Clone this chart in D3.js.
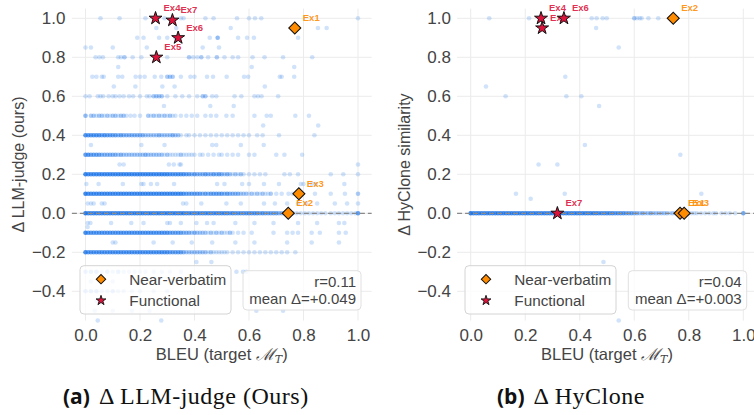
<!DOCTYPE html>
<html><head><meta charset="utf-8">
<script src="https://cdn.jsdelivr.net/npm/d3@7"></script>
<style>body{margin:0;background:#fff}svg{display:block}</style>
</head><body>
<svg id="chart" width="754" height="415"></svg>
<script>
// ---------------- DATA ----------------
const xTicks = [0, 0.2, 0.4, 0.6, 0.8, 1.0];
const yTicks = [-0.4, -0.2, 0, 0.2, 0.4, 0.6, 0.8, 1.0];
const legendLabels = ["Near-verbatim", "Functional"];

// Panel (a): Δ LLM-judge — rows of points at discrete Δ levels; each point is [BLEU, count]
const llmLevels = [1.0, 0.95, 0.9, 0.85, 0.8, 0.75, 0.7, 0.65, 0.6, 0.55, 0.5, 0.45, 0.4, 0.35, 0.3, 0.25, 0.2, 0.15, 0.1, 0.05, 0.0, -0.05, -0.07, -0.1, -0.15, -0.2, -0.25, -0.3, -0.35, -0.4, -0.45, -0.5, -0.55];
const llmRows = [
 [[.055,1],[.125,1],[.22,1],[.29,1],[.32,1],[.35,1],[.36,1],[.44,1],[.47,1],[.556,1],[.6,1],[.622,1],[.645,1],[1,1]],
 [[.26,1],[.333,1],[.533,1],[.853,1],[.885,1]],
 [[.19,1],[.213,1],[.27,1],[.3,1],[.33,1],[.456,1],[.485,3],[.56,1],[.593,1],[.618,1],[.78,1]],
 [[0,1],[.02,1],[.1,1],[.225,1],[.43,1],[.49,1]],
 [[.037,1],[.051,1],[.064,1],[.12,1],[.13,1],[.143,2],[.173,1],[.205,1],[.3,1],[.38,2],[.395,1],[.41,1],[.425,2],[.45,1],[.482,2],[.51,1],[.54,1],[.56,1],[.613,1],[.657,1],[.725,1],[.832,1]],
 [[.12,1],[.61,1],[.766,1]],
 [[.025,1],[.04,1],[.06,1],[.067,1],[.12,1],[.135,1],[.184,1],[.2,1],[.217,1],[.254,1],[.278,1],[.3,2],[.31,2],[.32,2],[.35,1],[.385,1],[.4,1],[.446,1],[.468,1],[.518,1],[.582,1],[.597,1],[.713,1],[.72,1],[.766,1]],
 [[.104,1],[.183,1],[.282,1],[.327,1],[.658,1]],
 [[0,1],[.015,1],[.045,1],[.055,1],[.065,1],[.085,1],[.1,1],[.11,1],[.125,1],[.14,1],[.16,1],[.175,1],[.2,1],[.225,1],[.235,1],[.25,2],[.26,2],[.27,2],[.28,2],[.3,1],[.33,1],[.355,1],[.38,1],[.41,1],[.43,2],[.44,2],[.465,1],[.48,1],[.547,1],[.572,1],[.62,1],[.633,1],[.646,1],[.707,1]],
 [[.288,1],[.458,1],[.544,1]],
 [[0,3],[.02,2],[.03,2],[.04,1],[.05,2],[.06,2],[.07,1],[.08,2],[.09,1],[.1,2],[.11,2],[.12,1],[.13,2],[.14,2],[.15,1],[.165,1],[.18,1],[.2,1],[.23,2],[.24,1],[.25,2],[.26,1],[.27,2],[.28,1],[.29,2],[.3,1],[.31,2],[.32,1],[.33,1],[.35,1],[.37,1],[.39,1],[.41,1],[.44,1],[.46,1],[.48,1],[.517,1],[.54,1],[.62,1],[.665,1],[.68,1],[.77,1],[.82,1]],
 [[.652,1],[.854,1]],
 [[0,6],[.01,5],[.02,5],[.03,5],[.04,5],[.05,5],[.06,4],[.07,5],[.08,4],[.09,4],[.1,4],[.11,4],[.12,3],[.13,4],[.14,3],[.15,3],[.16,3],[.17,3],[.18,3],[.19,3],[.2,3],[.21,3],[.22,2],[.23,2],[.24,2],[.25,2],[.26,2],[.27,3],[.28,2],[.29,2],[.3,2],[.31,2],[.32,3],[.33,2],[.34,2],[.35,1],[.37,1],[.38,1],[.4,1],[.42,1],[.44,1],[.46,1],[.48,1],[.5,1],[.52,1],[.54,1],[.56,1],[.58,1],[.6,1],[.63,1],[.65,1],[.71,1],[.84,1]],
 [[.02,1],[.205,1],[.29,1],[.465,1],[.48,1],[.57,1],[.654,1]],
 [[0,5],[.01,5],[.02,4],[.03,4],[.04,4],[.05,4],[.06,3],[.07,3],[.08,3],[.09,3],[.1,3],[.11,3],[.12,2],[.13,3],[.14,2],[.15,2],[.16,2],[.17,2],[.18,2],[.19,2],[.2,2],[.21,2],[.22,3],[.23,2],[.24,2],[.25,2],[.26,2],[.27,2],[.28,2],[.29,1],[.3,2],[.31,1],[.32,1],[.33,1],[.34,1],[.35,2],[.36,1],[.37,1],[.38,1],[.39,1],[.4,1],[.42,1],[.43,1],[.45,1],[.47,1],[.49,1],[.5,1],[.52,1],[.54,1],[.56,1],[.6,1],[.62,1],[.7,1],[.73,1],[.795,1]],
 [[.125,1],[.14,1],[.306,1],[.324,1],[.345,1],[.35,1],[1,1]],
 [[0,8],[.01,6],[.02,6],[.03,6],[.04,6],[.05,6],[.06,6],[.07,6],[.08,6],[.09,6],[.1,6],[.11,6],[.12,6],[.13,6],[.14,6],[.15,6],[.16,6],[.17,6],[.18,6],[.19,6],[.2,6],[.21,6],[.22,6],[.23,6],[.24,6],[.25,6],[.26,6],[.27,6],[.28,6],[.29,6],[.3,6],[.31,5],[.32,5],[.33,5],[.34,5],[.35,5],[.36,5],[.37,4],[.38,4],[.39,3],[.4,4],[.41,3],[.42,3],[.43,3],[.44,4],[.45,3],[.46,3],[.47,4],[.48,3],[.49,4],[.5,3],[.51,2],[.52,3],[.53,2],[.54,1],[.55,2],[.56,1],[.57,2],[.58,1],[.6,1],[.62,1],[.64,1],[.66,1],[.73,1],[.75,1],[.78,1],[.9,1],[.946,1],[1,1]],
 [[.003,1],[.048,1],[.137,1],[.205,1],[.213,1],[.24,1],[.263,1],[.325,1],[.483,1],[.51,1],[.575,1],[.6,1],[.655,1],[.71,1],[.79,1],[.8,1],[.83,1],[.845,1],[.95,1]],
 [[0,8],[.01,6],[.02,6],[.03,6],[.04,6],[.05,6],[.06,6],[.07,6],[.08,6],[.09,6],[.1,6],[.11,6],[.12,6],[.13,6],[.14,6],[.15,6],[.16,6],[.17,6],[.18,6],[.19,6],[.2,6],[.21,6],[.22,6],[.23,6],[.24,6],[.25,6],[.26,6],[.27,6],[.28,6],[.29,6],[.3,6],[.31,6],[.32,6],[.33,6],[.34,6],[.35,6],[.36,5],[.37,4],[.38,4],[.39,4],[.4,4],[.41,4],[.42,4],[.43,3],[.44,4],[.45,3],[.46,4],[.47,4],[.48,4],[.49,4],[.5,4],[.51,3],[.52,4],[.53,3],[.54,3],[.55,3],[.56,3],[.57,2],[.58,2],[.59,2],[.6,1],[.61,2],[.62,1],[.63,2],[.64,1],[.65,2],[.66,1],[.67,1],[.68,2],[.7,1],[.72,1],[.745,1],[.76,1],[.842,1],[.9,1],[.952,1],[1,2]],
 [[.008,1],[.02,1],[.03,1],[.06,1],[.07,1],[.358,1],[.37,1],[.425,1],[.517,1],[.57,1],[.655,1],[.695,1],[.74,1],[.78,1],[.81,1],[.85,1],[.915,1],[.96,1],[1,1]],
 [[0,10],[.01,7],[.02,7],[.03,7],[.04,7],[.05,7],[.06,7],[.07,7],[.08,7],[.09,7],[.1,7],[.11,7],[.12,7],[.13,7],[.14,7],[.15,7],[.16,7],[.17,7],[.18,7],[.19,7],[.2,7],[.21,7],[.22,7],[.23,7],[.24,7],[.25,7],[.26,7],[.27,7],[.28,7],[.29,7],[.3,7],[.31,7],[.32,7],[.33,7],[.34,7],[.35,7],[.36,7],[.37,6],[.38,6],[.39,6],[.4,6],[.41,6],[.42,6],[.43,6],[.44,6],[.45,6],[.46,6],[.47,6],[.48,6],[.49,6],[.5,6],[.51,6],[.52,6],[.53,5],[.54,6],[.55,5],[.56,5],[.57,5],[.58,5],[.59,5],[.6,5],[.61,5],[.62,5],[.63,5],[.64,4],[.65,5],[.66,4],[.67,4],[.68,4],[.69,4],[.7,4],[.71,3],[.72,3],[.73,3],[.74,3],[.75,2],[.76,2],[.775,1],[.79,1],[.805,1],[.82,1],[.835,1],[.85,1],[.865,1],[.88,1],[.9,1],[.915,1],[.93,1],[.945,1],[.96,1],[.975,1],[.99,1],[1,5]],
 [[.008,1],[.018,1],[.094,1],[.168,1],[.213,1],[.3,1],[.31,1],[.35,1],[.407,1],[.446,1],[.47,1],[.55,1],[.62,1],[.69,1],[.78,1],[.85,1],[.93,1],[.95,1]],
 [[.008,1]],
 [[0,7],[.01,5],[.02,5],[.03,5],[.04,5],[.05,5],[.06,5],[.07,5],[.08,5],[.09,5],[.1,5],[.11,5],[.12,5],[.13,5],[.14,5],[.15,5],[.16,5],[.17,5],[.18,5],[.19,5],[.2,5],[.21,5],[.22,5],[.23,5],[.24,5],[.25,5],[.26,5],[.27,5],[.28,5],[.29,5],[.3,5],[.31,4],[.32,4],[.33,4],[.34,4],[.35,4],[.36,3],[.37,3],[.38,3],[.39,2],[.4,3],[.41,2],[.42,2],[.43,2],[.44,2],[.45,1],[.46,2],[.47,1],[.48,2],[.49,1],[.5,2],[.51,1],[.52,1],[.53,2],[.54,1],[.56,1],[.58,1],[.61,1],[.69,1],[.74,1],[.76,1],[.78,1],[.83,1],[.86,1],[.93,1],[.955,1]],
 [[.1,1],[.11,1],[.25,1],[.32,1],[.39,1],[.465,1],[.55,1],[.62,1],[.74,1],[.83,1],[.93,1]],
 [[0,7],[.01,5],[.02,5],[.03,5],[.04,5],[.05,5],[.06,5],[.07,5],[.08,5],[.09,5],[.1,5],[.11,5],[.12,5],[.13,5],[.14,5],[.15,5],[.16,5],[.17,5],[.18,5],[.19,5],[.2,5],[.21,5],[.22,5],[.23,5],[.24,5],[.25,5],[.26,5],[.27,5],[.28,5],[.29,5],[.3,5],[.31,4],[.32,4],[.33,4],[.34,4],[.35,4],[.36,3],[.37,2],[.38,2],[.39,2],[.4,2],[.41,2],[.42,2],[.43,2],[.44,2],[.45,1],[.46,2],[.47,1],[.48,1],[.49,1],[.5,1],[.51,1],[.52,1],[.54,1],[.56,1],[.58,1],[.6,1],[.62,1],[.64,1],[.66,1],[.68,1],[.7,1],[.72,1],[.74,1],[.77,1]],
 [[.407,1],[.462,1]],
 [[0,2],[.02,2],[.04,2],[.06,1],[.08,2],[.1,1],[.12,2],[.14,1],[.16,1],[.18,1],[.2,1],[.22,1],[.25,1],[.28,1],[.31,1],[.35,1],[.554,1],[.578,1],[.59,1]],
 [[.02,1],[.1,1],[.2,1]],
 [[0,2],[.02,2],[.04,2],[.06,1],[.08,1],[.1,2],[.12,1],[.14,1],[.17,1],[.2,1],[.25,1],[.3,1]],
 [[.04,1],[.2,1]],
 [[.034,1],[.1,1],[.17,1],[.235,1],[.627,1],[.725,1]],
 [[.045,1],[.278,1]]
];
const llmNearIds = ["Ex1", "Ex2", "Ex3"];
const llmNearX = [0.768, 0.744, 0.783];
const llmNearY = [0.95, 0.0, 0.1];
const llmFuncIds = ["Ex4", "Ex5", "Ex6", "Ex7"];
const llmFuncX = [0.257, 0.26, 0.34, 0.319];
const llmFuncY = [1.0, 0.8, 0.9, 0.99];
const llmStats = ["r=0.11", "mean \u0394=+0.049"];

// Panel (b): Δ HyClone similarity
const hyLevels = [1.0, 0.95, 0.85, 0.7, 0.65, 0.6, 0.55, 0.35, 0.3, 0.25, 0.1, 0.075, 0.0, -0.25, -0.55];
const hyRows = [
 [[.068,1],[.214,1],[.444,1],[.462,1],[.484,1],[.499,1],[.6,2],[.61,1],[.62,1],[.627,1],[.652,1],[.688,1]],
 [[.46,1]],
 [[.543,1]],
 [[.347,1]],
 [[.056,1]],
 [[.128,1],[.351,1],[.406,1]],
 [[.471,1]],
 [[.419,1]],
 [[.769,1]],
 [[.249,1],[.318,1]],
 [[.166,1],[.345,1],[.846,1]],
 [[.22,1]],
 [[0,10],[.01,7],[.02,7],[.03,7],[.04,7],[.05,7],[.06,7],[.07,7],[.08,7],[.09,7],[.1,7],[.11,7],[.12,7],[.13,7],[.14,7],[.15,7],[.16,7],[.17,7],[.18,7],[.19,7],[.2,7],[.21,7],[.22,7],[.23,7],[.24,7],[.25,7],[.26,7],[.27,7],[.28,7],[.29,7],[.3,7],[.31,7],[.32,7],[.33,7],[.34,7],[.35,7],[.36,7],[.37,7],[.38,7],[.39,7],[.4,7],[.41,7],[.42,7],[.43,7],[.44,7],[.45,7],[.46,7],[.47,6],[.48,6],[.49,6],[.5,6],[.51,6],[.52,6],[.53,5],[.54,5],[.55,5],[.56,5],[.57,4],[.58,4],[.59,4],[.6,3],[.61,3],[.62,2],[.63,3],[.64,2],[.65,2],[.66,3],[.67,2],[.68,2],[.69,2],[.7,2],[.71,2],[.72,2],[.73,1],[.74,2],[.75,1],[.76,1],[.8,1],[.81,1],[.82,1],[.83,1],[.845,1],[.86,1],[.875,1],[.89,1],[.9,1],[.92,1],[.935,1],[.95,1],[.97,1],[1,4]],
 [[.487,1]],
 [[.543,1]]
];
const hyNearIds = ["Ex1", "Ex2", "Ex3"];
const hyNearX = [0.768, 0.743, 0.783];
const hyNearY = [0.0, 1.0, 0.0];
const hyFuncIds = ["Ex4", "Ex5", "Ex6", "Ex7"];
const hyFuncX = [0.258, 0.262, 0.342, 0.318];
const hyFuncY = [1.0, 0.95, 1.0, 0.0];
const hyStats = ["r=0.04", "mean \u0394=+0.003"];

// ---------------- STYLE / LAYOUT ----------------
const C_PT = "#1a73e8", C_NEAR = "#ff8c00", C_FUNC = "#dc143c";
const SANS = "'Liberation Sans', Arial, Helvetica, sans-serif";
const svg = d3.select("#chart");
const yScale = d3.scaleLinear().domain([-0.55, 1.05]).range([320.55, 8.55]);
const fmt = d3.format(".1f");

const panels = [
  {x: d3.scaleLinear().domain([0, 1]).range([85.5, 358]), levels: llmLevels, rows: llmRows,
   nearIds: llmNearIds, nearX: llmNearX, nearY: llmNearY, funcIds: llmFuncIds, funcX: llmFuncX, funcY: llmFuncY,
   stats: llmStats, ylabel: "\u0394 LLM-judge (ours)", ylabelX: 18, tickX: 65.5,
   legend: [80, 265.7, 151, 48.3], statBox: [243, 270.7, 118, 39.3]},
  {x: d3.scaleLinear().domain([0, 1]).range([470.7, 743.3]), levels: hyLevels, rows: hyRows,
   nearIds: hyNearIds, nearX: hyNearX, nearY: hyNearY, funcIds: hyFuncIds, funcX: hyFuncX, funcY: hyFuncY,
   stats: hyStats, ylabel: "\u0394 HyClone similarity", ylabelX: 404, tickX: 451,
   legend: [465, 265.7, 151, 48.3], statBox: [628.3, 270.7, 118.4, 39.3]}
];

const diamond = s => d3.symbol(d3.symbolSquare, s)();
const star = s => d3.symbol(d3.symbolStar, s)();

panels.forEach(p => {
  const g = svg.append("g");
  const x = p.x, y = yScale;
  const x0 = x(-0.05), x1 = x(1.05), y0 = y(-0.55), y1 = y(1.05);

  // grid
  g.append("g").selectAll("line").data(xTicks).join("line")
    .attr("x1", d => x(d)).attr("x2", d => x(d)).attr("y1", y1).attr("y2", y0)
    .attr("stroke", "#ebebeb").attr("stroke-width", 1);
  g.append("g").selectAll("line").data(yTicks).join("line")
    .attr("x1", x0).attr("x2", x1).attr("y1", d => y(d)).attr("y2", d => y(d))
    .attr("stroke", "#ebebeb").attr("stroke-width", 1);

  // scatter
  const pts = [];
  p.levels.forEach((lv, i) => p.rows[i].forEach(([bx, n]) => pts.push({bx, lv, n})));
  g.append("g").selectAll("circle").data(pts).join("circle")
    .attr("cx", d => x(d.bx)).attr("cy", d => y(d.lv)).attr("r", 2.3)
    .attr("fill", C_PT).attr("fill-opacity", d => 1 - Math.pow(0.8, d.n));

  // zero line
  g.append("line").attr("x1", x0).attr("x2", x1).attr("y1", y(0)).attr("y2", y(0))
    .attr("stroke", "#8a8a8a").attr("stroke-width", 1.2).attr("stroke-dasharray", "5,3");

  // highlighted examples: labels then markers
  const near = p.nearIds.map((id, i) => ({id, bx: p.nearX[i], v: p.nearY[i]}));
  const func = p.funcIds.map((id, i) => ({id, bx: p.funcX[i], v: p.funcY[i]}));
  const lab = g.append("g").attr("font-family", SANS).attr("font-size", 9.5).attr("font-weight", "bold");
  near.forEach(d => lab.append("text").attr("x", x(d.bx) + 8).attr("y", y(d.v) - 7).attr("fill", C_NEAR).attr("fill-opacity", 0.9).text(d.id));
  func.forEach(d => lab.append("text").attr("x", x(d.bx) + 8).attr("y", y(d.v) - 7).attr("fill", C_FUNC).attr("fill-opacity", 0.9).text(d.id));
  near.forEach(d => g.append("path").attr("d", diamond(72))
    .attr("transform", `translate(${x(d.bx)},${y(d.v)}) rotate(45)`)
    .attr("fill", C_NEAR).attr("stroke", "#111").attr("stroke-width", 1.1));
  func.forEach(d => g.append("path").attr("d", star(52))
    .attr("transform", `translate(${x(d.bx)},${y(d.v)})`)
    .attr("fill", C_FUNC).attr("stroke", "#111").attr("stroke-width", 1));

  // legend
  const [lx, ly, lw, lh] = p.legend;
  const lg = g.append("g");
  lg.append("rect").attr("x", lx).attr("y", ly).attr("width", lw).attr("height", lh).attr("rx", 4)
    .attr("fill", "#fff").attr("fill-opacity", 0.8).attr("stroke", "#d4d4d4").attr("stroke-width", 1);
  lg.append("path").attr("d", diamond(44)).attr("transform", `translate(${lx + 21},${ly + 13.5}) rotate(45)`)
    .attr("fill", C_NEAR).attr("stroke", "#111").attr("stroke-width", 1);
  lg.append("path").attr("d", star(30)).attr("transform", `translate(${lx + 21},${ly + 34.8})`)
    .attr("fill", C_FUNC).attr("stroke", "#111").attr("stroke-width", 0.9);
  lg.selectAll("text").data(legendLabels).join("text")
    .attr("x", lx + 49.3).attr("y", (d, i) => ly + 19 + i * 21.3)
    .attr("font-family", SANS).attr("font-size", 15.3).attr("fill", "#444").text(d => d);

  // stats box
  const [sx, sy, sw, sh] = p.statBox;
  g.append("rect").attr("x", sx).attr("y", sy).attr("width", sw).attr("height", sh).attr("rx", 4)
    .attr("fill", "#fff").attr("fill-opacity", 0.8).attr("stroke", "#e0e0e0").attr("stroke-width", 1);
  g.selectAll("text.st").data(p.stats).join("text").attr("class", "st")
    .attr("x", sx + sw - 5).attr("y", (d, i) => sy + 16.5 + i * 16.5).attr("text-anchor", "end")
    .attr("font-family", SANS).attr("font-size", 15).attr("fill", "#444").text(d => d);

  // axes (tick labels only)
  const ax = g.append("g").attr("transform", `translate(0,${y0})`)
    .call(d3.axisBottom(x).tickValues(xTicks).tickFormat(fmt).tickSize(0).tickPadding(8.5));
  const ay = g.append("g").attr("transform", `translate(${p.tickX + 3},0)`)
    .call(d3.axisLeft(y).tickValues(yTicks).tickFormat(fmt).tickSize(0).tickPadding(3));
  [ax, ay].forEach(a => {
    a.select(".domain").remove();
    a.selectAll("text").attr("font-family", SANS).attr("font-size", 17).attr("fill", "#444");
  });

  // axis titles
  const xt = g.append("text").attr("x", (x0 + x1) / 2).attr("y", 360).attr("text-anchor", "middle")
    .attr("font-family", SANS).attr("font-size", 16.5).attr("fill", "#444");
  xt.append("tspan").text("BLEU (target ");
  xt.append("tspan").attr("font-family", "'DejaVu Serif', serif").attr("font-style", "italic").text("\u2133");
  xt.append("tspan").attr("font-family", "'DejaVu Serif', serif").attr("font-style", "italic")
    .attr("font-size", 11).attr("dy", 3).text("T");
  xt.append("tspan").attr("dy", -3).text(")");
  g.append("text").attr("transform", `translate(${p.ylabelX},${(y0 + y1) / 2}) rotate(-90)`)
    .attr("text-anchor", "middle").attr("dy", "0.35em")
    .attr("font-family", SANS).attr("font-size", 16).attr("fill", "#444").text(p.ylabel);
});

// captions
const captions = [["(a)", "\u0394 LLM-judge (Ours)", 63], ["(b)", "\u0394 HyClone", 497]];
captions.forEach(([tag, txt, cx]) => {
  const t = svg.append("text").attr("x", cx).attr("y", 404).attr("fill", "#111");
  t.append("tspan").attr("font-family", "'Open Sans', sans-serif").attr("font-weight", "bold").attr("font-size", 21).text(tag);
  t.append("tspan").attr("dx", 9).attr("font-family", "'Liberation Serif', 'Times New Roman', serif")
    .attr("font-size", 24).attr("letter-spacing", 0.5).text(txt);
});
</script>
</body></html>
